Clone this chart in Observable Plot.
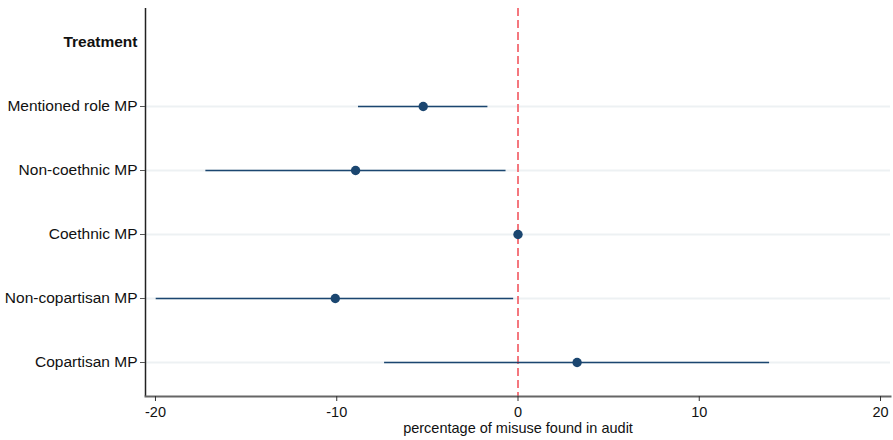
<!DOCTYPE html>
<html>
<head>
<meta charset="utf-8">
<script src="https://cdn.jsdelivr.net/npm/d3@7"></script>
<script src="https://cdn.jsdelivr.net/npm/@observablehq/plot@0.6"></script>
<style>
  html, body { margin: 0; padding: 0; background: #fff; }
  #chart svg { display: block; }
</style>
</head>
<body>
<div id="chart"></div>
<script>
const header = "Treatment";
const terms = ["Mentioned role MP", "Non-coethnic MP", "Coethnic MP", "Non-copartisan MP", "Copartisan MP"];
const estimates = [-5.23, -8.96, 0, -10.08, 3.26];
const lower = [-8.80, -17.22, 0, -19.96, -7.36];
const upper = [-1.66, -0.66, 0, -0.24, 13.88];
const xTicks = [-20, -10, 0, 10, 20];
const xDomain = [-20.55, 20.55];
const xLabel = "percentage of misuse found in audit";

const rows = terms.map((t, i) => ({term: t, est: estimates[i], lo: lower[i], hi: upper[i]}));
const withCI = rows.filter(d => d.lo !== d.hi);

const font = "'Liberation Sans', Arial, Helvetica, sans-serif";
const navy = "#1b4670";

const chart = Plot.plot({
  width: 893,
  height: 440,
  marginLeft: 145,
  marginRight: 3,
  marginTop: 8,
  marginBottom: 44,
  style: {fontFamily: font, fontSize: "15.5px", color: "#111", background: "#fff"},
  x: {domain: xDomain},
  y: {type: "point", domain: [header, ...terms], padding: 0.5},
  marks: [
    Plot.ruleY(terms, {y: d => d, stroke: "#edf1f3", strokeWidth: 2}),
    Plot.ruleX([0], {stroke: "#f4777e", strokeWidth: 2, strokeDasharray: "8,4"}),
    Plot.ruleY(withCI, {y: "term", x1: "lo", x2: "hi", stroke: navy, strokeWidth: 1.6}),
    Plot.dot(rows, {x: "est", y: "term", r: 4.7, fill: navy, stroke: "none"}),
    Plot.ruleX([xDomain[0]], {stroke: "#222", strokeWidth: 1.5}),
    Plot.frame({anchor: "bottom", stroke: "#666", strokeWidth: 2}),
    Plot.axisX({ticks: xTicks, tickSize: 5, tickPadding: 5, tickFormat: d => d < 0 ? "-" + Math.abs(d) : String(d), fontSize: 14.5, label: null, stroke: "#333"}),
    Plot.text([xLabel], {frameAnchor: "bottom", lineAnchor: "top", dy: 26, fontSize: 14.5, fill: "#111"}),
    Plot.axisY({ticks: terms, tickSize: 5, tickPadding: 3, fontSize: 15.5, label: null, stroke: "#555"}),
    Plot.text([header], {y: d => d, frameAnchor: "left", textAnchor: "end", dx: -8, fontWeight: "bold", fontSize: 15.5, fill: "#111"})
  ]
});
document.getElementById("chart").append(chart);
</script>
</body>
</html>
